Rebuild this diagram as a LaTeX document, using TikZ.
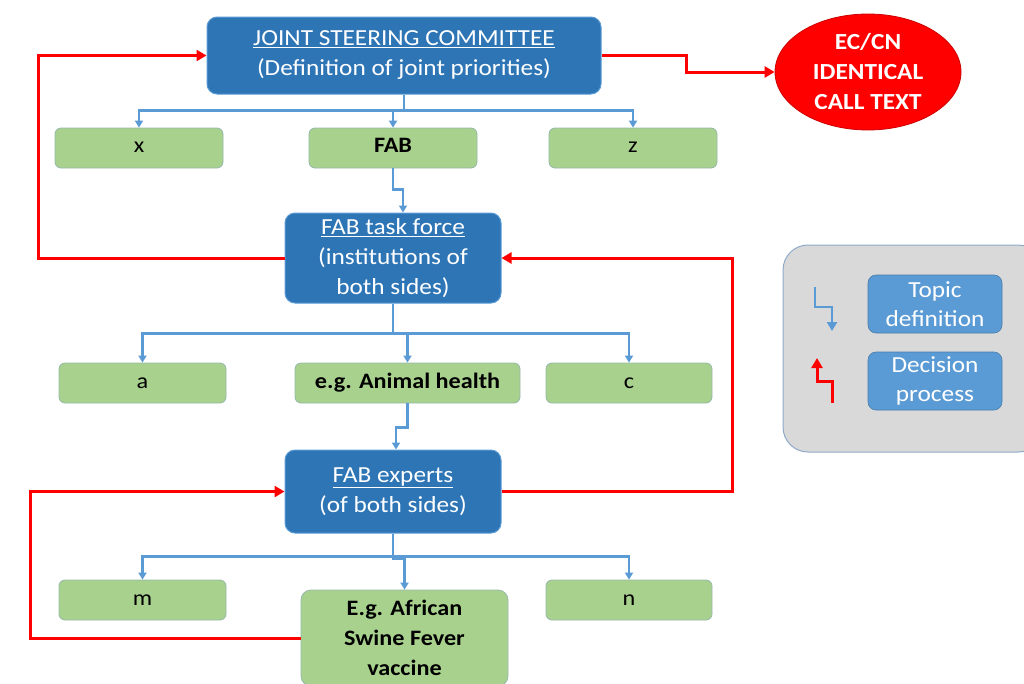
\documentclass[tikz,border=0pt]{standalone}
\usepackage{fontspec}
\setmainfont{Carlito}[FakeStretch=1.1]
\usetikzlibrary{arrows.meta,shapes.geometric,calc}
\definecolor{boxblue}{HTML}{2E75B6}
\definecolor{lblue}{HTML}{5B9BD5}
\definecolor{boxgreen}{HTML}{A9D18E}
\definecolor{greenedge}{HTML}{95B8A8}
\definecolor{redc}{HTML}{FF0000}
\definecolor{legendgrey}{HTML}{D9D9D9}
\definecolor{legendedge}{HTML}{8FAAC8}
\begin{document}
\begin{tikzpicture}[x=1pt,y=-1pt,
  bluebox/.style={fill=boxblue, draw=lblue, line width=1pt, rounded corners=10pt, text=white, align=center, inner sep=0pt, font=\fontsize{23}{30}\selectfont},
  greenbox/.style={fill=boxgreen, draw=greenedge, line width=0.8pt, rounded corners=6pt, align=center, inner sep=0pt, minimum height=40, font=\fontsize{22}{30}\selectfont},
  lowtext/.style={text height=0.95em, text depth=0pt},
  legbox/.style={fill=lblue, draw=lblue!80!black, line width=0.6pt, rounded corners=8pt, text=white, align=center, inner sep=0pt, minimum width=134, minimum height=58, font=\fontsize{23}{29}\selectfont},
  bl/.style={draw=lblue, line width=2.6pt, -{Triangle[length=7pt,width=8pt]}},
  rd/.style={draw=redc, line width=3pt, -{Triangle[length=10pt,width=11pt]}},
]
\useasboundingbox (0,0) rectangle (1024,683);

% legend background
\node[fill=legendgrey, draw=legendedge, line width=1pt, rounded corners=25pt, minimum width=260, minimum height=207, inner sep=0pt] (leg) at (913,348.5) {};
\node[legbox] (ltop) at (935,304) {Topic\\definition};
\node[legbox] (ldec) at (935,381) {Decision\\process};
\coordinate (lb1) at (815,287);
\coordinate (lb2) at (832,331);
\draw[bl, -{Triangle[length=9pt,width=10pt]}] (lb1) |- ($(lb1)!0.45!(lb2)$) -| (lb2);
\coordinate (lr1) at (832,403);
\coordinate (lr2) at (817,358);
\draw[rd] (lr1) |- (817,381) -- (lr2);

% main boxes
\node[bluebox, minimum width=394, minimum height=77] (jsc) at (404,55.5)
  {\underline{JOINT STEERING COMMITTEE}\\(Definition of joint priorities)};
\node[ellipse, fill=redc, draw=redc!80!black, line width=0.8pt, minimum width=186, minimum height=116, inner sep=0pt, text=white, align=center, font=\bfseries\fontsize{23}{30}\selectfont] (ec) at (868,72)
  {EC/CN\\IDENTICAL\\CALL TEXT};

\node[greenbox, lowtext, minimum width=168] (x) at (139,148) {x};
\node[greenbox, lowtext, minimum width=168, font=\bfseries\fontsize{22}{30}\selectfont] (fab) at (393,148) {FAB};
\node[greenbox, lowtext, minimum width=168] (z) at (633,148) {z};

\node[bluebox, minimum width=216, minimum height=90] (tf) at (393,258)
  {\underline{FAB task force}\\(institutions of\\both sides)};

\node[greenbox, minimum width=167] (a) at (142.5,383) {a};
\node[greenbox, minimum width=225, font=\bfseries\fontsize{22}{30}\selectfont] (ah) at (407.5,383) {e.g. Animal health};
\node[greenbox, minimum width=166] (c) at (629,383) {c};

\node[bluebox, minimum width=216, minimum height=83] (ex) at (393,491.5)
  {\underline{FAB experts}\\(of both sides)};

\node[greenbox, minimum width=167] (m) at (142.5,600) {m};
\node[greenbox, minimum width=207, minimum height=96, rounded corners=10pt, font=\bfseries\fontsize{22}{30}\selectfont] (vac) at (404.5,638)
  {E.g. African\\Swine Fever\\vaccine};
\node[greenbox, minimum width=166] (n) at (629,600) {n};

% blue topic connectors
\draw[bl] (jsc.south) -- ++(0,16) -| (x.north);
\draw[bl] (jsc.south) -- ++(0,16) -| (z.north);
\draw[bl] (jsc.south) -- ++(0,16) -| (fab.north);
\draw[bl] (fab.south) -- ++(0,21) -| ([xshift=10pt]tf.north);

\draw[bl] (tf.south) -- ++(0,30) -| (a.north);
\draw[bl] (tf.south) -- ++(0,30) -| (c.north);
\draw[bl] (tf.south) -- ++(0,30) -| (ah.north);
\draw[bl] (ah.south) -- ++(0,24) -| ([xshift=3pt]ex.north);

\draw[bl] (ex.south) -- ++(0,23) -| (m.north);
\draw[bl] (ex.south) -- ++(0,23) -| (n.north);
\draw[bl] (ex.south) -- ++(0,25) -| (vac.north);

% red decision connectors
\coordinate (r1) at (38,0);
\coordinate (r2) at (732,0);
\coordinate (r3) at (30,0);
\coordinate (r4) at (686,0);
\draw[rd] (tf.west) -- (tf.west -| r1) |- (jsc.west);
\draw[rd] (ex.east) -- (ex.east -| r2) |- (tf.east);
\draw[rd] (vac.west) -- (vac.west -| r3) |- (ex.west);
\draw[rd] (jsc.east) -- (jsc.east -| r4) |- (ec.west);
\end{tikzpicture}
\end{document}
